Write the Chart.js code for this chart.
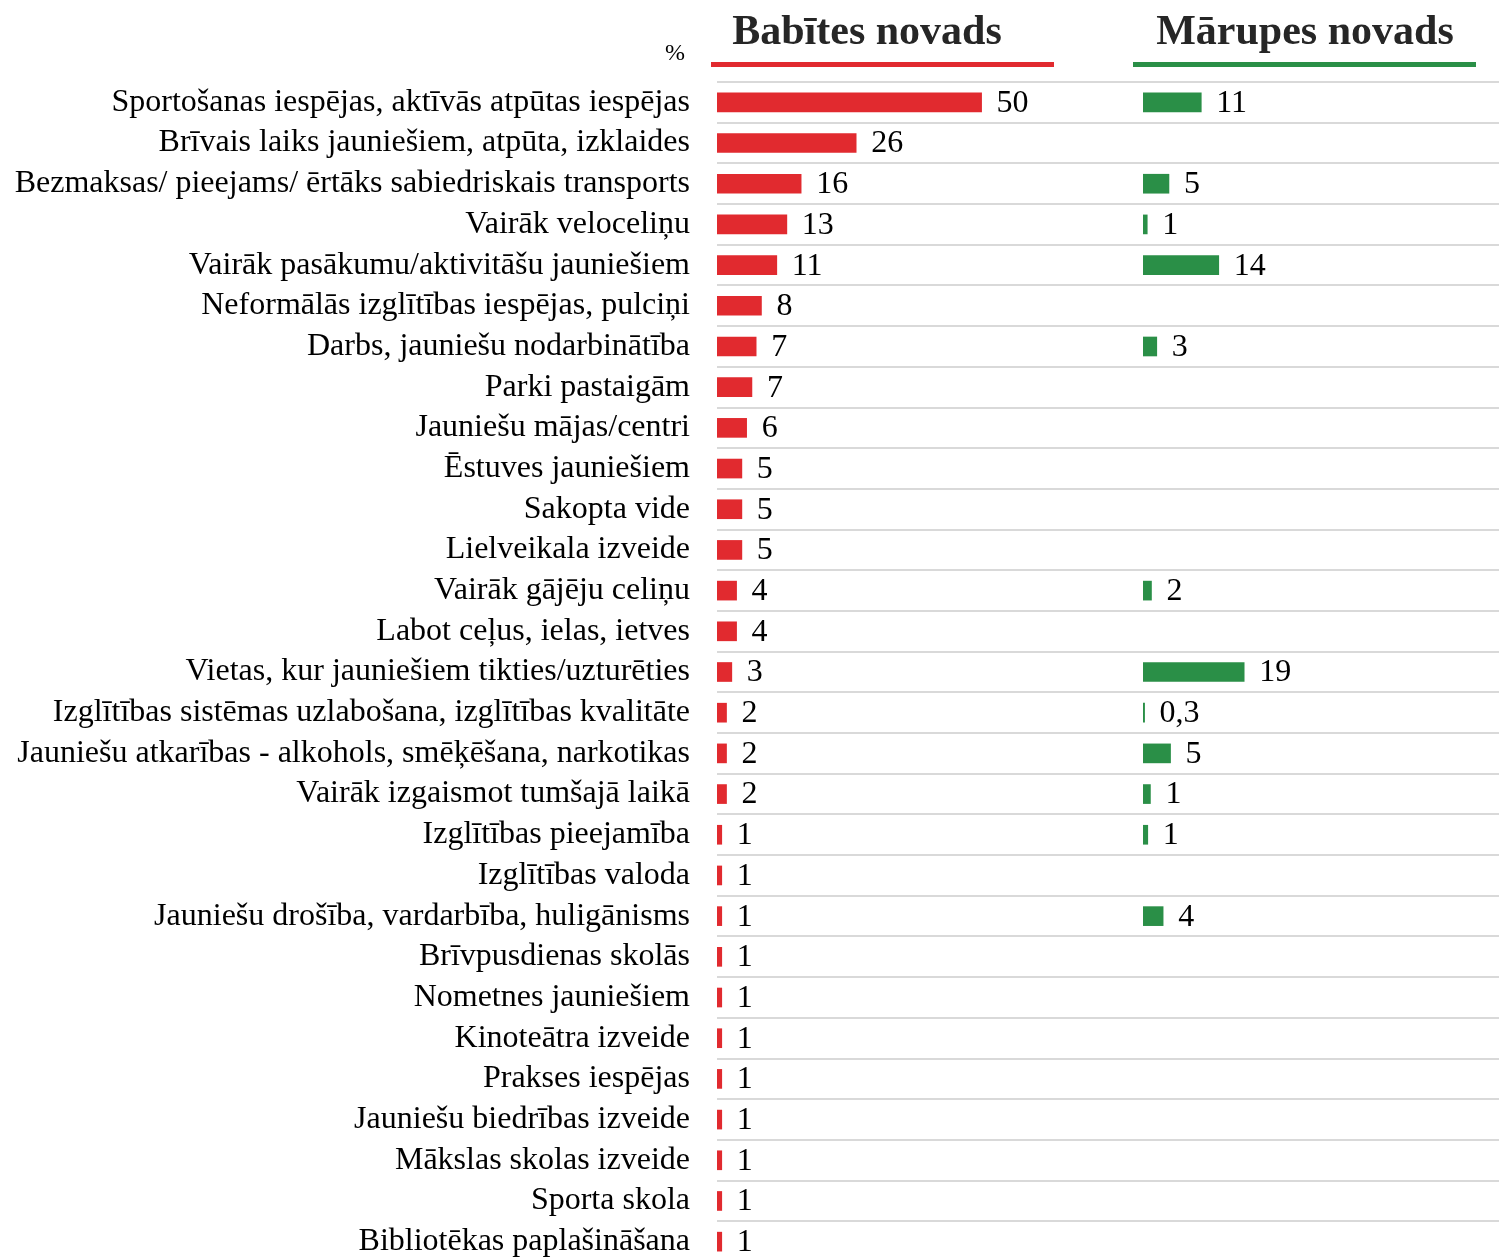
<!DOCTYPE html>
<html>
<head>
<meta charset="utf-8">
<script src="https://cdn.jsdelivr.net/npm/chart.js@4/dist/chart.umd.min.js"></script>
<style>
  html, body { margin: 0; padding: 0; background: #fff; overflow: hidden; }
</style>
</head>
<body>
<canvas id="needsChart" width="1499" height="1262"></canvas>
<script>
// Categories (answers), top to bottom
const categories = [
  'Sportošanas iespējas, aktīvās atpūtas iespējas',
  'Brīvais laiks jauniešiem, atpūta, izklaides',
  'Bezmaksas/ pieejams/ ērtāks sabiedriskais transports',
  'Vairāk veloceliņu',
  'Vairāk pasākumu/aktivitāšu jauniešiem',
  'Neformālās izglītības iespējas, pulciņi',
  'Darbs, jauniešu nodarbinātība',
  'Parki pastaigām',
  'Jauniešu mājas/centri',
  'Ēstuves jauniešiem',
  'Sakopta vide',
  'Lielveikala izveide',
  'Vairāk gājēju celiņu',
  'Labot ceļus, ielas, ietves',
  'Vietas, kur jauniešiem tikties/uzturēties',
  'Izglītības sistēmas uzlabošana, izglītības kvalitāte',
  'Jauniešu atkarības - alkohols, smēķēšana, narkotikas',
  'Vairāk izgaismot tumšajā laikā',
  'Izglītības pieejamība',
  'Izglītības valoda',
  'Jauniešu drošība, vardarbība, huligānisms',
  'Brīvpusdienas skolās',
  'Nometnes jauniešiem',
  'Kinoteātra izveide',
  'Prakses iespējas',
  'Jauniešu biedrības izveide',
  'Mākslas skolas izveide',
  'Sporta skola',
  'Bibliotēkas paplašināšana'
];

// % values (labels show rounded values)
const babitesValues = [50, 26.3, 15.9, 13.2, 11.3, 8.4, 7.4, 6.6, 5.6, 4.7, 4.7, 4.7, 3.7, 3.7, 2.8,
  1.8, 1.8, 1.8, 0.9, 0.9, 0.9, 0.9, 0.9, 0.9, 0.9, 0.9, 0.9, 0.9, 0.9];
const marupesValues = [11, null, 4.9, 0.8, 14.3, null, 2.6, null, null, null, null, null, 1.6, null, 19.1,
  0.3, 5.2, 1.4, 0.9, null, 3.8, null, null, null, null, null, null, null, null];

const panelTitles = ['Babītes novads', 'Mārupes novads'];
const unitLabel = '%';

const RED = '#e12a2f';
const GREEN = '#2a8f47';
const SERIF = '"Liberation Serif", "Times New Roman", serif';

function fmt(v) {
  if (v < 0.5) return v.toFixed(1).replace('.', ',');
  return String(Math.round(v));
}

// value labels at bar ends
const valueLabels = {
  id: 'valueLabels',
  afterDatasetsDraw(chart) {
    const ctx = chart.ctx;
    ctx.save();
    ctx.font = '32px ' + SERIF;
    ctx.fillStyle = '#000';
    ctx.textBaseline = 'middle';
    ctx.textAlign = 'left';
    chart.data.datasets.forEach((ds, i) => {
      const meta = chart.getDatasetMeta(i);
      meta.data.forEach((bar, j) => {
        const v = ds.data[j];
        if (v === null || v === undefined) return;
        ctx.fillText(fmt(v), bar.x + 15, bar.y + 1);
      });
    });
    ctx.restore();
  }
};

// panel headers with coloured underline
const panelHeaders = {
  id: 'panelHeaders',
  afterDraw(chart) {
    const ctx = chart.ctx;
    const panels = [
      { scale: chart.scales.xB, color: RED, title: panelTitles[0], l: -6, r: 337, tx: 150 },
      { scale: chart.scales.xM, color: GREEN, title: panelTitles[1], l: -10, r: 333, tx: 162 }
    ];
    ctx.save();
    panels.forEach(p => {
      const left = p.scale.left;
      ctx.fillStyle = p.color;
      ctx.fillRect(left + p.l, 62, p.r - p.l, 5);
      ctx.fillStyle = '#262626';
      ctx.font = 'bold 42px ' + SERIF;
      ctx.textAlign = 'center';
      ctx.textBaseline = 'alphabetic';
      ctx.fillText(p.title, left + p.tx, 44);
    });
    ctx.font = '24px ' + SERIF;
    ctx.fillStyle = '#000';
    ctx.textAlign = 'center';
    ctx.fillText(unitLabel, 675, 60);
    ctx.restore();
  }
};

new Chart(document.getElementById('needsChart'), {
  type: 'bar',
  data: {
    labels: categories,
    datasets: [
      {
        label: panelTitles[0],
        data: babitesValues,
        xAxisID: 'xB',
        backgroundColor: RED
      },
      {
        label: panelTitles[1],
        data: marupesValues,
        xAxisID: 'xM',
        backgroundColor: GREEN
      }
    ]
  },
  options: {
    indexAxis: 'y',
    responsive: false,
    animation: false,
    layout: { padding: { top: 82, left: 0, right: 0, bottom: 0 } },
    datasets: { bar: { grouped: false, barThickness: 19 } },
    plugins: {
      legend: { display: false },
      tooltip: { enabled: false }
    },
    scales: {
      y: {
        grid: { color: '#d9d9d9', lineWidth: 2, drawTicks: false },
        border: { display: false },
        ticks: {
          padding: 27,
          color: '#000',
          font: { family: SERIF, size: 32 },
          autoSkip: false
        },
        afterFit(scale) {
          scale.width = 717;
          scale.paddingTop = 0;
          scale.paddingBottom = 0;
        }
      },
      xB: {
        type: 'linear',
        position: 'bottom',
        stack: 'panels',
        stackWeight: 426,
        min: 0,
        max: 80.5,
        display: false,
        afterFit(scale) { scale.height = 0; }
      },
      xM: {
        type: 'linear',
        position: 'bottom',
        stack: 'panels',
        stackWeight: 356,
        min: 0,
        max: 67.2,
        display: false,
        afterFit(scale) { scale.height = 0; }
      }
    }
  },
  plugins: [valueLabels, panelHeaders]
});
</script>
</body>
</html>
